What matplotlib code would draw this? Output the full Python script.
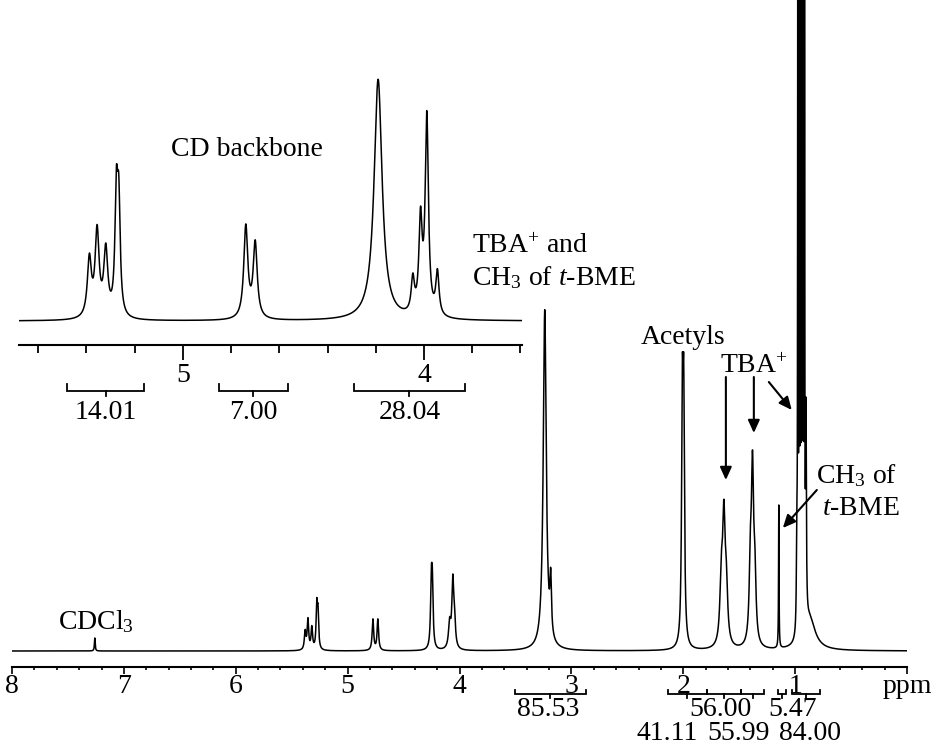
import numpy as np
import matplotlib.pyplot as plt
from matplotlib.ticker import MultipleLocator

plt.rcParams['font.family'] = ['Liberation Serif', 'DejaVu Serif']
plt.rcParams['mathtext.fontset'] = 'custom'
plt.rcParams['mathtext.rm'] = 'Liberation Serif'
plt.rcParams['mathtext.it'] = 'Liberation Serif:italic'

# full 1H spectrum: line positions (ppm), heights and half widths (ppm)
main_shift = [7.26, 5.380, 5.355, 5.320, 5.276, 5.265, 4.774, 4.730,
              4.252, 4.243, 4.088, 4.060, 4.045, 3.238, 3.185,
              2.008, 1.996, 1.660, 1.637, 1.615,
              1.400, 1.381, 1.360, 1.146,
              0.985, 0.976, 0.964, 0.952, 0.940, 0.928, 0.916, 0.903, 0.870]
main_height = [13, 18, 30, 22, 42, 34, 31, 31,
               58, 58, 25, 65, 25, 340, 55,
               224, 224, 60, 120, 50,
               70, 165, 60, 143,
               90, 700, 700, 700, 700, 700, 700, 200, 30]
main_width = [0.004, 0.008, 0.008, 0.008, 0.007, 0.007, 0.008, 0.008,
              0.008, 0.008, 0.012, 0.010, 0.010, 0.016, 0.008,
              0.008, 0.008, 0.014, 0.014, 0.014,
              0.012, 0.012, 0.012, 0.0025,
              0.004, 0.0022, 0.0022, 0.0022, 0.0022, 0.0022, 0.0022, 0.004, 0.060]

# expanded CD backbone region
inset_shift = [5.388, 5.356, 5.320, 5.276, 5.266, 4.739, 4.700,
               4.190, 4.046, 4.014, 3.988, 3.944]
inset_height = [58, 85, 66, 115, 105, 92, 75,
                241, 34, 92, 198, 43]
inset_width = [0.010, 0.010, 0.010, 0.007, 0.007, 0.010, 0.010,
               0.020, 0.008, 0.008, 0.008, 0.008]

# integral regions and values
main_int_regions = [(3.505, 2.87), (2.14, 1.79), (1.79, 1.48), (1.48, 1.28),
                    (1.155, 1.08), (1.03, 0.78)]
main_int_text = ['85.53', '56.00', '5.47', '41.11', '55.99', '84.00']
main_int_x = [3.21, 1.67, 1.02, 2.14, 1.51, 0.87]
main_int_row = [0, 0, 0, 1, 1, 1]

inset_int_regions = [(5.48, 5.16), (4.85, 4.565), (4.29, 3.83)]
inset_int_text = ['14.01', '7.00', '28.04']


def spectrum(x, shifts, heights, widths):
    y = np.zeros_like(x)
    for c, h, w in zip(shifts, heights, widths):
        y += h / (1 + ((x - c) / w) ** 2)
    return y


def bracket(ax, x0, x1, y, up, down):
    ax.plot([x0, x0, x1, x1], [y + up, y, y, y + up], color='k', lw=1.3,
            clip_on=False, solid_joinstyle='miter')
    xc = (x0 + x1) / 2
    ax.plot([xc, xc], [y, y - down], color='k', lw=1.3, clip_on=False)


W, H = 936, 747
fig = plt.figure(figsize=(W / 100, H / 100), dpi=100)

# ---- main spectrum ----
ax = fig.add_axes([12 / W, 80 / H, (907 - 12) / W, 1 - 80 / H])
ppm = np.linspace(8.0, 0.0, 40000)
ax.plot(ppm, spectrum(ppm, main_shift, main_height, main_width), color='k', lw=1.1)
ax.set_xlim(8.0, 0.0)
ax.set_ylim(-16, 651)
for s in ['top', 'left', 'right']:
    ax.spines[s].set_visible(False)
ax.spines['bottom'].set_linewidth(1.5)
ax.set_yticks([])
ax.set_xticks(range(0, 9))
ax.set_xticklabels(['ppm', '1', '2', '3', '4', '5', '6', '7', '8'])
ax.xaxis.set_minor_locator(MultipleLocator(0.2))
ax.tick_params(axis='x', which='major', length=5, width=1.2, labelsize=20, pad=0)
ax.tick_params(axis='x', which='minor', length=2.5, width=1.2)

for x0, x1 in main_int_regions:
    bracket(ax, x0, x1, -43, 4, 4)
for t, xt, r in zip(main_int_text, main_int_x, main_int_row):
    ax.text(xt, -65 - 24 * r, t, fontsize=20, ha='center', va='baseline')

ax.text(7.589, 22, r'$\mathrm{CDCl}_{3}$', fontsize=20, ha='left', va='baseline')
ax.text(3.889, 398, r'$\mathrm{TBA}^{+}$ and', fontsize=20, ha='left', va='baseline')
ax.text(3.889, 366, r'$\mathrm{CH}_{3}$ of $t$-BME', fontsize=20, ha='left', va='baseline')
ax.text(2.004, 307, 'Acetyls', fontsize=20, ha='center', va='baseline')
ax.text(1.369, 278, r'$\mathrm{TBA}^{+}$', fontsize=20, ha='center', va='baseline')
ax.text(0.815, 168, r'$\mathrm{CH}_{3}$ of', fontsize=20, ha='left', va='baseline')
ax.text(0.761, 136, '$t$-BME', fontsize=20, ha='left', va='baseline')

arrow = dict(arrowstyle='-|>,head_length=0.55,head_width=0.25', color='k',
             lw=1.5, mutation_scale=14, shrinkA=0, shrinkB=0)
ax.annotate('', xy=(1.619, 171), xytext=(1.619, 274), arrowprops=arrow)
ax.annotate('', xy=(1.369, 218), xytext=(1.369, 274), arrowprops=arrow)
ax.annotate('', xy=(1.030, 241), xytext=(1.235, 269), arrowprops=arrow)
ax.annotate('', xy=(1.110, 123), xytext=(0.806, 161), arrowprops=arrow)

# ---- inset: CD backbone ----
ins = fig.add_axes([19 / W, 1 - 345 / H, (522 - 19) / W, (345 - 60) / H])
ins.patch.set_visible(False)
ippm = np.linspace(5.68, 3.593, 20000)
ins.plot(ippm, spectrum(ippm, inset_shift, inset_height, inset_width), color='k', lw=1.1)
ins.set_xlim(5.68, 3.593)
ins.set_ylim(-24, 261)
for s in ['top', 'left', 'right']:
    ins.spines[s].set_visible(False)
ins.spines['bottom'].set_linewidth(1.5)
ins.set_yticks([])
ins.set_xticks([5, 4])
ins.set_xticklabels(['5', '4'])
ins.xaxis.set_minor_locator(MultipleLocator(0.2))
ins.tick_params(axis='x', which='major', length=10.5, width=1.3, labelsize=20, pad=2.5)
ins.tick_params(axis='x', which='minor', length=5.5, width=1.3)

for x0, x1 in inset_int_regions:
    bracket(ins, x0, x1, -70, 7, 5)
for (x0, x1), t in zip(inset_int_regions, inset_int_text):
    ins.text((x0 + x1) / 2, -98, t, fontsize=20, ha='center', va='baseline')

ins.text(4.734, 165, 'CD backbone', fontsize=20, ha='center', va='baseline')

fig.savefig('out.png', dpi=100, facecolor='white')
